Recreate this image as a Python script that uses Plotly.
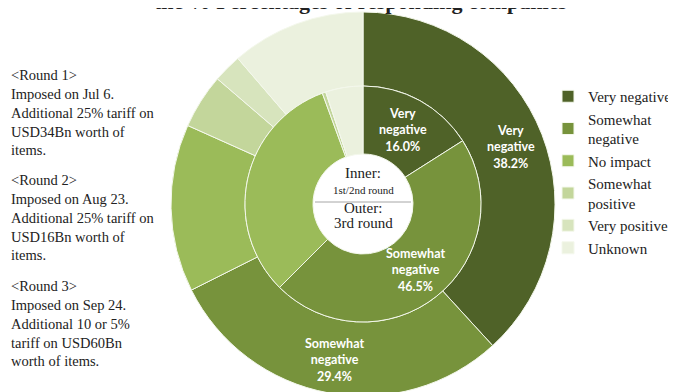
import math
import plotly.graph_objects as go

categories = ["Very negative", "Somewhat<br>negative", "No impact",
              "Somewhat<br>positive", "Very positive", "Unknown"]
colors = ["#4F6228", "#77933C", "#9BBB59", "#C3D69B", "#D7E4BD", "#EBF1DE"]

# Inner ring: 1st/2nd round
inner_values = [16.0, 46.5, 31.9, 0.5, 0.0, 5.1]
# Outer ring: 3rd round
outer_values = [38.2, 29.4, 14.1, 4.6, 2.4, 11.3]

# slice labels shown (index -> label name)
inner_labels = {0: "Very<br>negative", 1: "Somewhat<br>negative"}
outer_labels = {0: "Very<br>negative", 1: "Somewhat<br>negative"}

title_text = "the % Percentages of responding companies"
round_notes = [
    "&lt;Round 1&gt;<br>Imposed on Jul 6.<br>Additional 25% tariff on<br>USD34Bn worth of<br>items.",
    "&lt;Round 2&gt;<br>Imposed on Aug 23.<br>Additional 25% tariff on<br>USD16Bn worth of<br>items.",
    "&lt;Round 3&gt;<br>Imposed on Sep 24.<br>Additional 10 or 5%<br>tariff on USD60Bn<br>worth of items.",
]

# The page body adds an 8px offset; all pixel positions below are figure-relative.
W, H = 676, 392
cx, cy = 355, 196           # centre in figure pixels (from top)
R_out, R_mid, R_hole = 192, 118, 50

def dom(r):
    return dict(x=[(cx - r) / W, (cx + r) / W],
                y=[(H - cy - r) / H, (H - cy + r) / H])

def py(v):
    return 1 - v / H

fig = go.Figure()
fig.add_trace(go.Pie(
    labels=categories, values=outer_values, textinfo="none",
    sort=False, direction="clockwise", rotation=0,
    hole=R_mid / R_out, domain=dom(R_out),
    marker=dict(colors=colors, line=dict(color="#F4F8EC", width=1)),
    hoverinfo="skip", showlegend=True,
))
fig.add_trace(go.Pie(
    labels=categories, values=inner_values, textinfo="none",
    sort=False, direction="clockwise", rotation=0,
    hole=R_hole / R_mid, domain=dom(R_mid),
    marker=dict(colors=colors, line=dict(color="#F4F8EC", width=1)),
    hoverinfo="skip", showlegend=False,
))

serif = "Liberation Serif"

def centre_note(text, y, size):
    return dict(text=text, x=cx / W, y=py(y), xref="paper", yref="paper",
                xanchor="center", yanchor="middle", showarrow=False,
                font=dict(family=serif, size=size, color="#222"))

annotations = [
    dict(text="<b>" + title_text + "</b>", x=352 / W, y=py(8), xref="paper", yref="paper",
         xanchor="center", yanchor="bottom", showarrow=False,
         font=dict(family=serif, size=22, color="#222")),
    centre_note("Inner:", 165, 15),
    centre_note("1st/2nd round", 182, 11),
    centre_note("Outer:", 200, 15),
    centre_note("3rd round", 215, 15),
]

# slice labels positioned at each slice's mid-angle, within the ring
def add_slice_labels(values, shown, r0, r1, frac):
    total = sum(values)
    cum = 0.0
    for i, v in enumerate(values):
        if i in shown:
            ang = 2 * math.pi * (cum + v / 2) / total
            r = r0 + (r1 - r0) * frac
            x = cx + r * math.sin(ang)
            y = cy - r * math.cos(ang)
            annotations.append(dict(
                text="<b>%s<br>%.1f%%</b>" % (shown[i], v / total * 100),
                x=x / W, y=py(y), xref="paper", yref="paper", showarrow=False,
                xanchor="center", yanchor="middle",
                font=dict(family="Lato", size=12.5, color="white")))
        cum += v

add_slice_labels(outer_values, outer_labels, R_mid, R_out, 0.55)
add_slice_labels(inner_values, inner_labels, R_hole, R_mid, 0.5)

note_tops = [57, 162, 268]
for note, top in zip(round_notes, note_tops):
    annotations.append(dict(text=note, x=1 / W, y=py(top), xref="paper", yref="paper",
                            xanchor="left", yanchor="top", align="left", showarrow=False,
                            font=dict(family=serif, size=14.5, color="#222")))

fig.update_layout(
    width=W, height=H,
    margin=dict(l=0, r=0, t=0, b=0, autoexpand=False),
    paper_bgcolor="white", plot_bgcolor="white",
    annotations=annotations,
    shapes=[dict(type="line", xref="paper", yref="paper",
                 x0=(cx - 48) / W, x1=(cx + 48) / W, y0=py(194), y1=py(194),
                 line=dict(color="#A6A6A6", width=1))],
    legend=dict(x=540 / W, y=py(72), xanchor="left", yanchor="top",
                font=dict(family=serif, size=15, color="#222"),
                itemwidth=30, tracegroupgap=0, bgcolor="rgba(0,0,0,0)"),
)

fig.write_html("out.html")
